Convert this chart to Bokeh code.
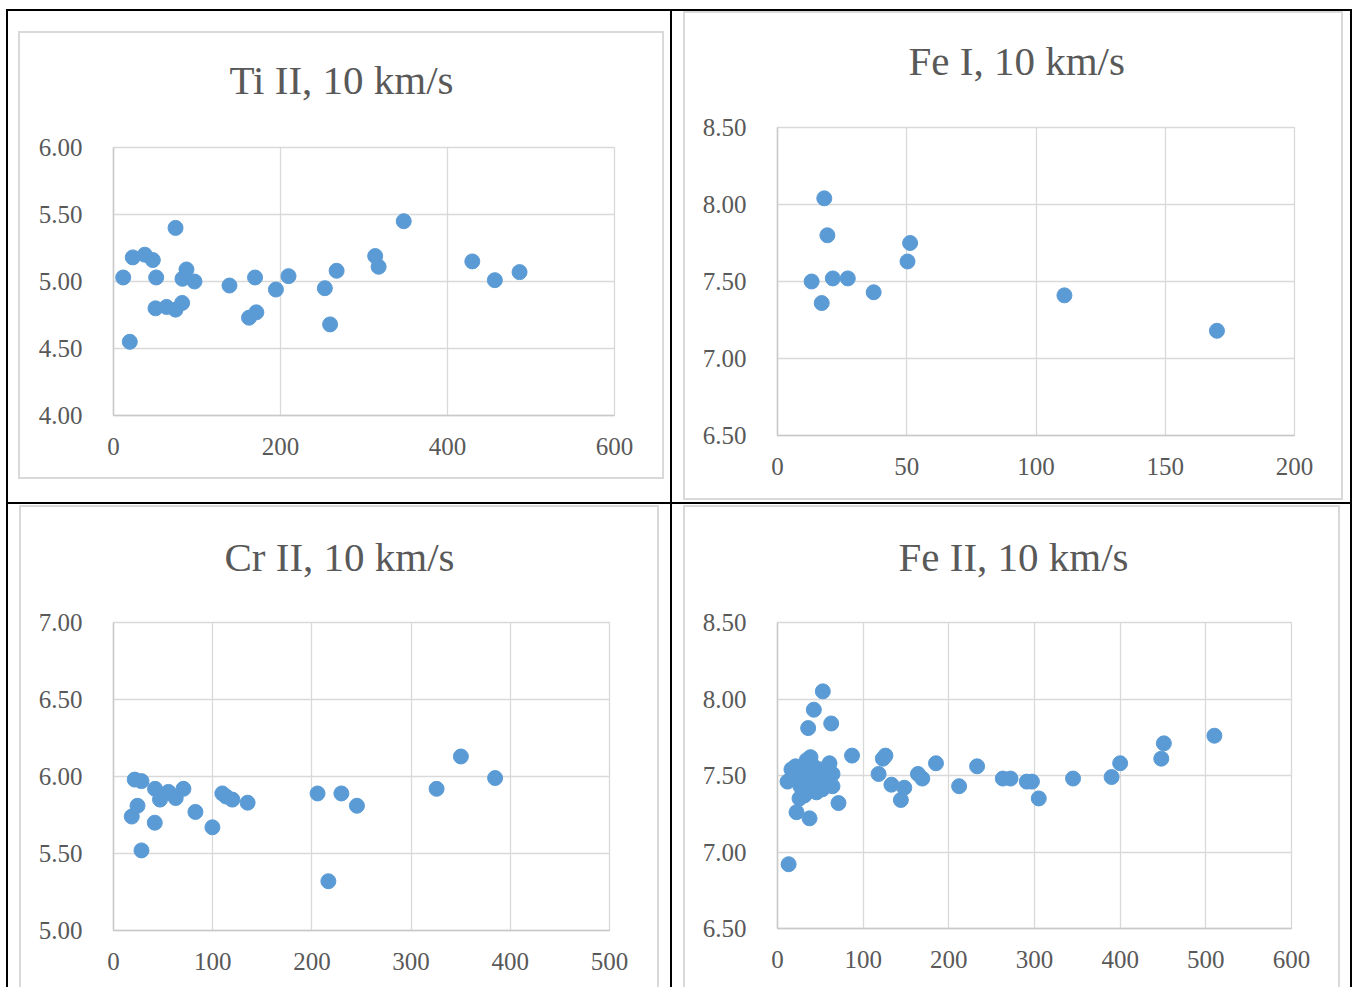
from bokeh.plotting import figure
from bokeh.layouts import column, row
from bokeh.models import Range1d, FixedTicker, NumeralTickFormatter
from bokeh.embed import file_html
from bokeh.resources import INLINE

# ---------------- data ----------------
ti2_x = [11.6, 19.5, 23.1, 37.5, 47.1, 51.1, 50.3, 63.5, 74.3, 74.3, 82.2, 82.6, 87.4, 97.0,
         138.9, 162.3, 169.5, 171.1, 194.5, 209.6, 253.1, 259.4, 267.2, 313.4, 317.5, 347.6,
         429.7, 456.7, 486.3]
ti2_y = [5.03, 4.55, 5.18, 5.20, 5.16, 5.03, 4.80, 4.81, 5.40, 4.79, 4.84, 5.02, 5.09, 5.00,
         4.97, 4.73, 5.03, 4.77, 4.94, 5.04, 4.95, 4.68, 5.08, 5.19, 5.11, 5.45,
         5.15, 5.01, 5.07]

fe1_x = [13.2, 17.1, 18.1, 19.3, 21.4, 27.2, 37.2, 50.3, 51.3, 111.0, 170.0]
fe1_y = [7.50, 7.36, 8.04, 7.80, 7.52, 7.52, 7.43, 7.63, 7.75, 7.41, 7.18]

cr2_x = [18.4, 21.4, 24.2, 28.2, 28.2, 41.6, 41.9, 46.9, 55.4, 62.7, 70.5, 82.6, 99.7,
         109.7, 113.5, 119.8, 135.2, 205.7, 216.6, 229.7, 245.4, 325.7, 350.2, 384.7]
cr2_y = [5.74, 5.98, 5.81, 5.97, 5.52, 5.70, 5.92, 5.85, 5.90, 5.86, 5.92, 5.77, 5.67,
         5.89, 5.87, 5.85, 5.83, 5.89, 5.32, 5.89, 5.81, 5.92, 6.13, 5.99]

fe2_x = [52.9, 42.4, 35.8, 62.7,
         11.7, 16.3, 21.0, 23.3, 26.8, 30.4, 33.9, 38.5, 42.0, 36.2, 44.4, 47.9, 50.2, 54.9,
         59.5, 60.7, 64.2, 64.2, 71.2, 29.2, 25.7, 31.5, 22.2, 37.4, 40.9, 52.5, 26.8, 45.5,
         13.0, 87.0, 118.0, 123.0, 126.0, 133.0, 144.0, 148.0, 164.0, 169.0, 185.0, 212.0,
         233.0, 263.0, 272.0, 291.0, 297.0, 305.0, 345.0, 390.0, 400.0, 448.0, 451.0, 510.0]
fe2_y = [8.05, 7.93, 7.81, 7.84,
         7.46, 7.54, 7.56, 7.48, 7.54, 7.50, 7.60, 7.62, 7.56, 7.43, 7.50, 7.45, 7.54, 7.48,
         7.53, 7.58, 7.51, 7.43, 7.32, 7.40, 7.35, 7.37, 7.26, 7.22, 7.40, 7.41, 7.43, 7.39,
         6.92, 7.63, 7.51, 7.61, 7.63, 7.44, 7.34, 7.42, 7.51, 7.48, 7.58, 7.43,
         7.56, 7.48, 7.48, 7.46, 7.46, 7.35, 7.48, 7.49, 7.58, 7.61, 7.71, 7.76]

titles = ["Ti II, 10 km/s", "Fe I, 10 km/s", "Cr II, 10 km/s", "Fe II, 10 km/s"]
x_ticks = [[0, 200, 400, 600], [0, 50, 100, 150, 200], [0, 100, 200, 300, 400, 500],
           [0, 100, 200, 300, 400, 500, 600]]
y_ticks = [[4.0, 4.5, 5.0, 5.5, 6.0], [6.5, 7.0, 7.5, 8.0, 8.5], [5.0, 5.5, 6.0, 6.5, 7.0],
           [6.5, 7.0, 7.5, 8.0, 8.5]]

# ---------------- style ----------------
FONT = "Liberation Serif"
TEXT = "#595959"
BLUE = "#5B9BD5"
GRID = "#D9D9D9"
AXIS = "#C9C9C9"
BORDER = "#D9D9D9"

SHIFT = -10  # layout starts 10px above the page top

# page-coordinate decorations: (left, top, right, bottom, colour)
BLACK = "#000000"
deco = [
    (6, 9, 8, 1200, BLACK), (6, 9, 1352, 11, BLACK), (670, 9, 672, 1200, BLACK),
    (1350, 9, 1352, 1200, BLACK), (6, 502, 1352, 504, BLACK),
]
for (l, t, r, b) in [(18, 31, 664, 479), (683, 11, 1343, 500), (19, 505, 659, 2000),
                     (683, 505, 1340, 2000)]:
    deco += [(l, t, r, t + 2, BORDER), (l, b - 2, r, b, BORDER),
             (l, t, l + 2, b, BORDER), (r - 2, t, r, b, BORDER)]


def background(ox, oy, W, H):
    parts = []
    for (l, t, r, b, c) in deco:
        L, T, R, B = max(l, ox), max(t, oy), min(r, ox + W), min(b, oy + H)
        if R > L and B > T:
            parts.append(f"linear-gradient({c}, {c}) {L - ox}px {T - oy}px / "
                         f"{R - L}px {B - T}px no-repeat")
    return ", ".join(parts + ["#ffffff"])


def panel(title, xs, ys, xt, yt, origin, W, H, frame, standoff, title_left):
    ox, oy = origin
    fl, ft, fr, fb = frame
    p = figure(width=W, height=H,
               x_range=Range1d(xt[0], xt[-1]), y_range=Range1d(yt[0], yt[-1]),
               output_backend="svg", toolbar_location=None,
               min_border_left=fl, min_border_right=W - fr,
               min_border_top=ft, min_border_bottom=H - fb,
               styles={"background": background(ox, oy, W, H)})
    p.frame_align = False
    p.background_fill_color = "white"
    p.border_fill_color = None
    p.outline_line_color = GRID
    p.outline_line_width = 1.3

    p.title.text = title
    p.title.align = "left"
    p.title.offset = title_left - fl
    p.title.standoff = standoff
    p.title.text_font = FONT
    p.title.text_font_size = "41px"
    p.title.text_font_style = "normal"
    p.title.text_color = TEXT

    for ax, ticks in ((p.xaxis, xt), (p.yaxis, yt)):
        ax.ticker = FixedTicker(ticks=ticks)
        ax.major_tick_line_color = None
        ax.minor_tick_line_color = None
        ax.major_tick_out = 0
        ax.major_tick_in = 0
        ax.axis_line_color = AXIS
        ax.axis_line_width = 1.5
        ax.major_label_text_font = FONT
        ax.major_label_text_font_size = "25px"
        ax.major_label_text_color = TEXT
    p.yaxis.formatter = NumeralTickFormatter(format="0.00")
    p.yaxis.major_label_standoff = 31
    p.xaxis.major_label_standoff = 22

    p.xgrid.ticker = FixedTicker(ticks=xt)
    p.ygrid.ticker = FixedTicker(ticks=yt)
    for g in (p.xgrid, p.ygrid):
        g.grid_line_color = GRID
        g.grid_line_width = 1.3

    p.scatter(xs, ys, size=15, marker="circle", fill_color=BLUE, line_color=BLUE)
    return p


TOP_H = 498     # page -10 .. 488
BOT_H = 499     # page 488 .. 987
Y0 = SHIFT
Y1 = SHIFT + TOP_H

p1 = panel(titles[0], ti2_x, ti2_y, x_ticks[0], y_ticks[0], (0, Y0), 672, TOP_H,
           (113, 147 - Y0, 614, 415 - Y0), 90, 229)
p2 = panel(titles[1], fe1_x, fe1_y, x_ticks[1], y_ticks[1], (672, Y0), 684, TOP_H,
           (105, 127 - Y0, 622, 435 - Y0), 88, 908 - 672)
p3 = panel(titles[2], cr2_x, cr2_y, x_ticks[2], y_ticks[2], (0, Y1), 672, BOT_H,
           (113, 134, 609, 442), 86, 224)
p4 = panel(titles[3], fe2_x, fe2_y, x_ticks[3], y_ticks[3], (672, Y1), 684, BOT_H,
           (105, 134, 619, 440), 86, 898 - 672)

layout = column(row(p1, p2), row(p3, p4), styles={"margin-top": f"{SHIFT}px"})
open("out.html", "w").write(file_html(layout, INLINE))
